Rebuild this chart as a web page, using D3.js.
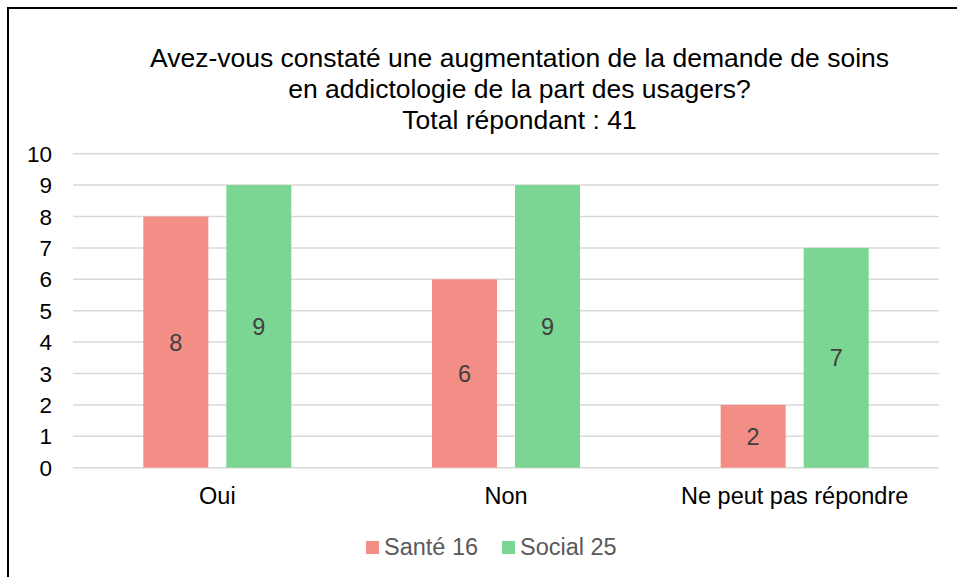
<!DOCTYPE html>
<head>
<meta charset='utf-8'>
<style>
  body { margin: 0; background: #fff; font-family: 'Liberation Sans', Arial, sans-serif; }
  svg { display: block; }
</style>
</head>
<body>
<div id='vis'></div>
<script src='https://d3js.org/d3.v7.min.js'></script>
<script>
  const categories = ['Oui', 'Non', 'Ne peut pas répondre']
  const seriesNames = ['Santé 16', 'Social 25']
  const sante = [8, 6, 2]
  const social = [9, 9, 7]
  const yTicks = [0, 1, 2, 3, 4, 5, 6, 7, 8, 9, 10]
  const titleLines = ['Avez-vous constaté une augmentation de la demande de soins',
                      'en addictologie de la part des usagers?',
                      'Total répondant : 41']

  const colours = ['#F28E86', '#7BD693']

  const W = 957, H = 577
  const plot = {left: 73, right: 939, top: 153.7, bottom: 467.7}

  const svg = d3.select('#vis').append('svg')
    .attr('width', W).attr('height', H)

  // cadre
  svg.append('rect')
    .attr('x', 8).attr('y', 8)
    .attr('width', W + 10).attr('height', H + 10)
    .attr('fill', 'none').attr('stroke', '#000').attr('stroke-width', 2)

  // titre
  svg.append('g').selectAll('text')
    .data(titleLines).enter().append('text')
    .attr('x', 519.5)
    .attr('y', (d, i) => 67 + i * 31)
    .attr('text-anchor', 'middle')
    .attr('font-size', '26.5px')
    .attr('fill', '#000')
    .text(d => d)

  const x0 = d3.scaleBand().domain(categories).range([plot.left, plot.right])
  const x1 = d3.scaleBand().domain(seriesNames).range([0, x0.bandwidth()])
    .paddingInner(0.217).paddingOuter(0.847)
  const y = d3.scaleLinear().domain([0, 10]).range([plot.bottom, plot.top])

  // grille
  svg.append('g').selectAll('line')
    .data(yTicks).enter().append('line')
    .attr('x1', plot.left).attr('x2', plot.right)
    .attr('y1', d => y(d)).attr('y2', d => y(d))
    .attr('stroke', '#D9D9D9').attr('stroke-width', 1.5)

  // graduations
  svg.append('g').selectAll('text')
    .data(yTicks).enter().append('text')
    .attr('x', 52)
    .attr('y', d => y(d) + 8)
    .attr('text-anchor', 'end')
    .attr('font-size', '22.5px')
    .attr('fill', '#000')
    .text(d => d)

  const rows = []
  categories.forEach((c, i) => {
    rows.push({cat: c, s: seriesNames[0], v: sante[i], col: colours[0]})
    rows.push({cat: c, s: seriesNames[1], v: social[i], col: colours[1]})
  })

  const bars = svg.append('g')
  bars.selectAll('rect')
    .data(rows).enter().append('rect')
    .attr('x', d => x0(d.cat) + x1(d.s))
    .attr('y', d => y(d.v))
    .attr('width', x1.bandwidth())
    .attr('height', d => y(0) - y(d.v))
    .attr('fill', d => d.col)

  bars.selectAll('text')
    .data(rows).enter().append('text')
    .attr('x', d => x0(d.cat) + x1(d.s) + x1.bandwidth() / 2)
    .attr('y', d => (y(d.v) + y(0)) / 2 + 8.5)
    .attr('text-anchor', 'middle')
    .attr('font-size', '23.5px')
    .attr('fill', '#404040')
    .text(d => d.v)

  // categories
  svg.append('g').selectAll('text')
    .data(categories).enter().append('text')
    .attr('x', d => x0(d) + x0.bandwidth() / 2)
    .attr('y', 504)
    .attr('text-anchor', 'middle')
    .attr('font-size', '23.5px')
    .attr('fill', '#000')
    .text(d => d)

  // legende
  const legendX = [366, 502]
  const legend = svg.append('g').selectAll('g')
    .data(seriesNames).enter().append('g')
    .attr('transform', (d, i) => `translate(${legendX[i]}, 541)`)
  legend.append('rect')
    .attr('width', 13).attr('height', 13)
    .attr('fill', (d, i) => colours[i])
  legend.append('text')
    .attr('x', 18).attr('y', 13.5)
    .attr('font-size', '23.5px')
    .attr('fill', '#595959')
    .text(d => d)
</script>
</body>
